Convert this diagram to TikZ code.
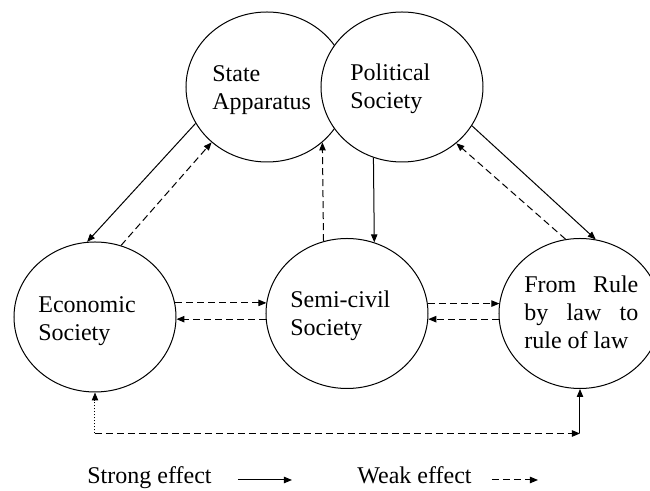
\documentclass[tikz,border=0pt]{standalone}
\usepackage{fontspec}
\setmainfont{Liberation Serif}
\usetikzlibrary{shapes.geometric,arrows.meta,calc}

\begin{document}
\begin{tikzpicture}[x=0.5pt,y=-0.5pt,
  circ/.style={ellipse,draw,fill=white,line width=0.5pt,inner sep=0pt,
               minimum width=81pt,minimum height=75pt},
  lbl/.style={inner sep=0pt,anchor=base west,font=\fontsize{12}{14}\selectfont},
  tip/.style={-{Triangle[length=4pt,width=3.2pt]}},
  strong/.style={tip,line width=0.5pt},
  weak/.style={tip,line width=0.5pt,dash pattern=on 3.5pt off 2pt},
  faint/.style={tip,line width=0.5pt,dash pattern=on 0.5pt off 1pt}]

\useasboundingbox (0,0) rectangle (650,491);

% the five societies
\node[circ] (state) at (267,87) {};
\node[circ] (pol)   at (402,87) {};
\node[circ] (econ)  at (95,317) {};
\node[circ] (semi)  at (347,313.5) {};
\node[circ] (law)   at (580,313.5) {};

% their names
\node[lbl] (tstate) at (212,82)  {\parbox[t]{70pt}{\raggedright State\\Apparatus}};
\node[lbl] (tpol)   at (350,81)  {\parbox[t]{70pt}{\raggedright Political\\Society}};
\node[lbl] (tecon)  at (38,313)  {\parbox[t]{70pt}{\raggedright Economic\\Society}};
\node[lbl] (tsemi)  at (290,308) {\parbox[t]{70pt}{\raggedright Semi-civil\\Society}};
\node[lbl] (tlaw)   at (524,293) {\parbox[t]{57pt}{From\hfill Rule\\by\hfill law\hfill to\\rule of law}};

% state apparatus <-> economic society
\draw[strong] (state.207.5) -- (econ.96.7);
\draw[weak]   (econ.70.7) -- (state.225);

% semi-civil society -> state apparatus, political society -> semi-civil society
\draw[weak]   (semi.108.5) -- (state.315.9);
\draw[strong] (pol.248.3) -- (semi.69.1);

% political society <-> rule of law
\draw[strong] (pol.331.2) -- (law.78.9);
\draw[weak]   (law.101.4) -- (pol.314.5);

% horizontal exchanges
\draw[weak] (econ.10) -- (econ.10 -| semi.172.5);
\draw[weak] (semi.184.6) -- (semi.184.6 -| econ.-2.2);
\draw[weak] (semi.7.5) -- (semi.7.5 -| law.172.5);
\draw[weak] (law.184.6) -- (law.184.6 -| semi.-4.6);

% loop along the bottom
\path (econ.south) ++(0,41) coordinate (bl);
\path (law.south |- bl) coordinate (br);
\draw[faint]  (bl) -- (econ.south);
\draw[weak]   (bl) -- (br);
\draw[strong] (br) -- (law.south);

% legend
\node[lbl] (kstrong) at (87,484)  {Strong effect};
\node[lbl] (kweak)   at (357,484) {Weak effect};
\coordinate (ks1) at (238,480);
\coordinate (ks2) at (292,480);
\coordinate (kw1) at (492,480);
\coordinate (kw2) at (538,480);
\draw[strong] (ks1) -- (ks2);
\draw[weak]   (kw1) -- (kw2);
\end{tikzpicture}
\end{document}
